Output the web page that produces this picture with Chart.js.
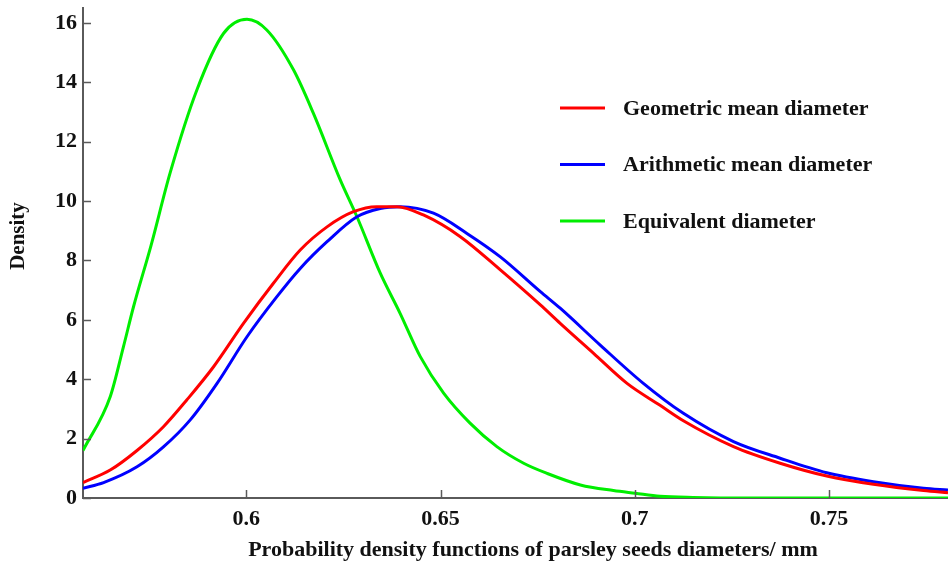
<!DOCTYPE html>
<html>
<head>
<meta charset="utf-8">
<script src="https://cdn.jsdelivr.net/npm/chart.js@4.4.1/dist/chart.umd.min.js"></script>
<style>
  html, body { margin: 0; padding: 0; background: #fff; }
  #wrap { width: 948px; height: 562px; position: relative; }
</style>
</head>
<body>
<div id="wrap"><canvas id="densityChart"></canvas></div>
<script>
// Series (x = diameter in mm, y = density)
var geoX = [0.558, 0.565, 0.5719, 0.5787, 0.5847, 0.5916, 0.5993, 0.607, 0.6139, 0.6208, 0.6276, 0.6336, 0.6388, 0.6456, 0.6551, 0.6654, 0.6757, 0.6808, 0.6894, 0.698, 0.7065, 0.7125, 0.7254, 0.7374, 0.7494, 0.7614, 0.7743, 0.7806];
var geoY = [0.52, 0.94, 1.6, 2.4, 3.3, 4.42, 5.88, 7.23, 8.35, 9.13, 9.64, 9.81, 9.81, 9.53, 8.8, 7.68, 6.5, 5.88, 4.87, 3.86, 3.12, 2.6, 1.73, 1.17, 0.74, 0.46, 0.25, 0.18];

var ariX = [0.558, 0.5633, 0.5719, 0.5787, 0.5856, 0.5925, 0.6002, 0.6079, 0.6139, 0.6208, 0.6285, 0.6345, 0.6396, 0.6482, 0.6568, 0.6654, 0.6757, 0.6808, 0.6911, 0.7022, 0.7125, 0.7254, 0.7374, 0.7494, 0.7614, 0.7743, 0.7806];
var ariY = [0.33, 0.52, 1.05, 1.72, 2.63, 3.86, 5.43, 6.78, 7.73, 8.63, 9.47, 9.75, 9.81, 9.59, 8.91, 8.12, 6.95, 6.39, 5.15, 3.86, 2.85, 1.9, 1.34, 0.85, 0.55, 0.33, 0.27];

var eqX = [0.558, 0.565, 0.5684, 0.571, 0.5755, 0.5804, 0.5873, 0.5942, 0.6002, 0.6053, 0.6122, 0.6173, 0.6242, 0.6285, 0.6345, 0.6396, 0.6448, 0.6508, 0.6576, 0.6645, 0.6714, 0.6774, 0.686, 0.6945, 0.7001, 0.7065, 0.715, 0.73, 0.7806];
var eqY = [1.6, 3.41, 5.09, 6.44, 8.5, 10.94, 13.74, 15.65, 16.12, 15.76, 14.41, 12.95, 10.71, 9.47, 7.57, 6.22, 4.76, 3.53, 2.52, 1.73, 1.17, 0.83, 0.44, 0.25, 0.16, 0.06, 0.02, 0, 0];

var seriesNames = ["Geometric mean diameter", "Arithmetic mean diameter", "Equivalent diameter"];
var seriesColors = ["#ff0000", "#0000ff", "#00ee00"];

var xTicks = [0.6, 0.65, 0.7, 0.75];
var yTicks = [0, 2, 4, 6, 8, 10, 12, 14, 16];

var xTitle = 'Probability density functions of parsley seeds diameters/ mm';
var yTitle = 'Density';

function toPoints(xs, ys) {
    var pts = [];
    for (var i = 0; i < xs.length; i++) {
        pts.push({ x: xs[i], y: ys[i] });
    }
    return pts;
}

var serif = "'Liberation Serif', 'Times New Roman', serif";
var axisColor = '#5a5a5a';
var textColor = '#111';

// short tick marks pointing into the plot
var innerTicks = {
    id: 'innerTicks',
    afterDraw: function (chart) {
        var c = chart.ctx;
        var xs = chart.scales.x, ys = chart.scales.y;
        var area = chart.chartArea;
        c.save();
        c.strokeStyle = axisColor;
        c.lineWidth = 1.5;
        xTicks.forEach(function (v) {
            var px = Math.round(xs.getPixelForValue(v)) + 0.5;
            c.beginPath();
            c.moveTo(px, area.bottom);
            c.lineTo(px, area.bottom - 8);
            c.stroke();
        });
        yTicks.forEach(function (v) {
            var py = Math.round(ys.getPixelForValue(v)) + 0.5;
            c.beginPath();
            c.moveTo(area.left, py);
            c.lineTo(area.left + 8, py);
            c.stroke();
        });
        c.restore();
    }
};

// axis titles (a bit off-centre in the original) and the legend inside the plot
var labelsAndLegend = {
    id: 'labelsAndLegend',
    afterDraw: function (chart) {
        var c = chart.ctx;
        c.save();
        c.fillStyle = textColor;
        c.textBaseline = 'middle';
        c.textAlign = 'center';
        c.font = 'bold 22px ' + serif;
        c.fillText(xTitle, 533, 550);

        c.save();
        c.translate(19, 236);
        c.rotate(-Math.PI / 2);
        c.font = 'bold 21px ' + serif;
        c.fillText(yTitle, 0, 0);
        c.restore();

        c.font = 'bold 22px ' + serif;
        c.textAlign = 'left';
        chart.data.datasets.forEach(function (ds, i) {
            var y = 108 + i * 56.5;
            c.strokeStyle = ds.borderColor;
            c.lineWidth = 3;
            c.beginPath();
            c.moveTo(560, y);
            c.lineTo(605, y);
            c.stroke();
            c.fillStyle = textColor;
            c.fillText(ds.label, 623, y + 1);
        });
        c.restore();
    }
};

var ctx = document.getElementById('densityChart').getContext('2d');

var densityChart = new Chart(ctx, {
    type: 'line',
    data: {
        datasets: [{
            label: seriesNames[0],
            data: toPoints(geoX, geoY),
            borderColor: seriesColors[0],
            borderWidth: 3,
            pointRadius: 0,
            cubicInterpolationMode: 'monotone',
            fill: false
        }, {
            label: seriesNames[1],
            data: toPoints(ariX, ariY),
            borderColor: seriesColors[1],
            borderWidth: 3,
            pointRadius: 0,
            cubicInterpolationMode: 'monotone',
            fill: false
        }, {
            label: seriesNames[2],
            data: toPoints(eqX, eqY),
            borderColor: seriesColors[2],
            borderWidth: 3,
            pointRadius: 0,
            cubicInterpolationMode: 'monotone',
            fill: false
        }]
    },
    options: {
        responsive: true,
        maintainAspectRatio: false,
        animation: false,
        layout: { padding: { top: 8, right: 0, left: 0, bottom: 0 } },
        plugins: {
            legend: { display: false },
            tooltip: { enabled: false }
        },
        scales: {
            x: {
                type: 'linear',
                min: 0.558,
                max: 0.7806,
                afterFit: function (scale) {
                    scale.height = 64;
                    scale.paddingLeft = 0;
                    scale.paddingRight = 0;
                },
                afterBuildTicks: function (scale) {
                    scale.ticks = xTicks.map(function (v) { return { value: v }; });
                },
                grid: { display: false, drawTicks: false },
                border: { display: true, color: axisColor, width: 2 },
                ticks: {
                    padding: 8,
                    color: textColor,
                    font: { family: serif, size: 22, weight: 'bold' },
                    callback: function (v) { return String(v); }
                }
            },
            y: {
                min: 0,
                max: 16.5,
                afterFit: function (scale) {
                    scale.width = 83;
                    scale.paddingTop = 0;
                    scale.paddingBottom = 0;
                },
                afterBuildTicks: function (scale) {
                    scale.ticks = yTicks.map(function (v) { return { value: v }; });
                },
                grid: { display: false, drawTicks: false },
                border: { display: true, color: axisColor, width: 2 },
                ticks: {
                    padding: 6,
                    color: textColor,
                    font: { family: serif, size: 22, weight: 'bold' }
                }
            }
        }
    },
    plugins: [innerTicks, labelsAndLegend]
});
</script>
</body>
</html>
